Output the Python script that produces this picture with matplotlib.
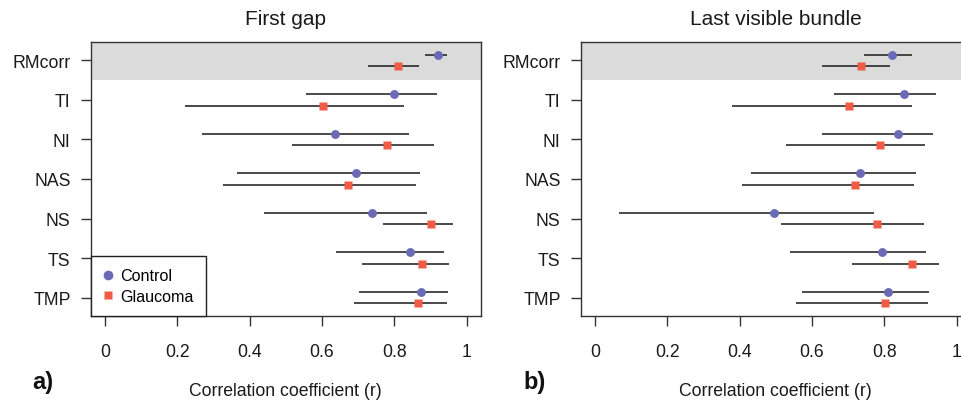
import matplotlib
matplotlib.use("Agg")
import matplotlib.pyplot as plt
from matplotlib.lines import Line2D
from matplotlib.patches import Rectangle

plt.rcParams['font.family'] = ['Liberation Sans', 'DejaVu Sans']

categories = ["RMcorr", "TI", "NI", "NAS", "NS", "TS", "TMP"]
panel_titles = ["First gap", "Last visible bundle"]
panel_tags = ["a)", "b)"]
series_names = ["Control", "Glaucoma"]
xticks = [0, 0.2, 0.4, 0.6, 0.8, 1]
xtick_labels = ["0", "0.2", "0.4", "0.6", "0.8", "1"]
xlabel = "Correlation coefficient (r)"

# Panel a: First gap
a_control = [0.921, 0.800, 0.636, 0.695, 0.739, 0.843, 0.875]
a_control_lo = [0.885, 0.555, 0.269, 0.364, 0.440, 0.638, 0.703]
a_control_hi = [0.947, 0.919, 0.842, 0.872, 0.891, 0.937, 0.950]
a_glaucoma = [0.809, 0.604, 0.780, 0.672, 0.903, 0.877, 0.867]
a_glaucoma_lo = [0.728, 0.221, 0.516, 0.327, 0.768, 0.710, 0.689]
a_glaucoma_hi = [0.868, 0.828, 0.911, 0.861, 0.963, 0.952, 0.947]

# Panel b: Last visible bundle
b_control = [0.822, 0.855, 0.839, 0.734, 0.494, 0.794, 0.811]
b_control_lo = [0.744, 0.662, 0.629, 0.432, 0.067, 0.539, 0.573]
b_control_hi = [0.877, 0.943, 0.936, 0.889, 0.771, 0.915, 0.924]
b_glaucoma = [0.735, 0.703, 0.787, 0.719, 0.779, 0.877, 0.802]
b_glaucoma_lo = [0.629, 0.380, 0.529, 0.406, 0.514, 0.710, 0.557]
b_glaucoma_hi = [0.816, 0.876, 0.913, 0.883, 0.910, 0.952, 0.920]

panels = [
    (a_control, a_control_lo, a_control_hi, a_glaucoma, a_glaucoma_lo, a_glaucoma_hi),
    (b_control, b_control_lo, b_control_hi, b_glaucoma, b_glaucoma_lo, b_glaucoma_hi),
]

C_CTRL = "#6a6ab6"
C_GLAU = "#ef5b45"
LINE_C = "#222222"
BAND_C = "#dcdbdc"
FS = 12.7

W, H = 962, 406
fig = plt.figure(figsize=(W / 100, H / 100), dpi=100)

ax_lefts = [90.7, 580.7]
ax_w = 390.3
ax_top = 43.3
ax_bot = 316.7
offset = 0.15

for p, (cm, clo, chi, gm, glo, ghi) in enumerate(panels):
    ax = fig.add_axes([ax_lefts[p] / W, 1 - ax_bot / H, ax_w / W, (ax_bot - ax_top) / H])
    ax.set_xlim(-0.04, 1.04)
    ax.set_ylim(7.46, 0.54)
    ax.add_patch(Rectangle((-0.04, 0.54), 1.08, 0.96, color=BAND_C, zorder=0, lw=0))
    ys = list(range(1, len(categories) + 1))
    yc = [y - offset for y in ys]
    yg = [y + offset for y in ys]
    ax.hlines(yc, clo, chi, color=LINE_C, lw=1.15, zorder=2)
    ax.hlines(yg, glo, ghi, color=LINE_C, lw=1.15, zorder=2)
    ax.plot(cm, yc, 'o', color=C_CTRL, ms=6.4, mec='none', zorder=3)
    ax.plot(gm, yg, 's', color=C_GLAU, ms=5.6, mec='none', zorder=3)
    ax.set_yticks(ys)
    ax.set_yticklabels(categories, fontsize=FS)
    ax.set_xticks(xticks)
    ax.set_xticklabels(xtick_labels, fontsize=FS)
    ax.tick_params(axis='both', direction='out', length=7.5, width=1.0,
                   color='#333333', labelcolor='#1a1a1a')
    ax.tick_params(axis='x', pad=12.5)
    ax.tick_params(axis='y', pad=7)
    for s in ax.spines.values():
        s.set_color('#333333')
        s.set_linewidth(1.0)
    ax.set_title(panel_titles[p], fontsize=15, pad=13, color='#1a1a1a')
    cx = (ax_lefts[p] + ax_w / 2) / W
    fig.text(cx, 1 - 391.7 / H, xlabel, fontsize=FS, ha='center', va='center', color='#1a1a1a')
    fig.text([32, 523][p] / W, 1 - 382.7 / H, panel_tags[p], fontsize=17, fontweight='bold',
             ha='left', va='center', color='#111111')
    if p == 0:
        handles = [
            Line2D([], [], marker='o', ls='none', color=C_CTRL, ms=7.0, mec='none'),
            Line2D([], [], marker='s', ls='none', color=C_GLAU, ms=6.2, mec='none'),
        ]
        leg = ax.legend(handles, series_names, loc='lower left', bbox_to_anchor=(0, 0),
                        borderaxespad=0, fontsize=11.6, frameon=True, fancybox=False,
                        borderpad=0.75, handlelength=0.65, handletextpad=0.45,
                        labelspacing=0.33)
        fr = leg.get_frame()
        fr.set_edgecolor('#222222')
        fr.set_linewidth(1.0)
        fr.set_alpha(1)

fig.savefig("out.png", dpi=100)
